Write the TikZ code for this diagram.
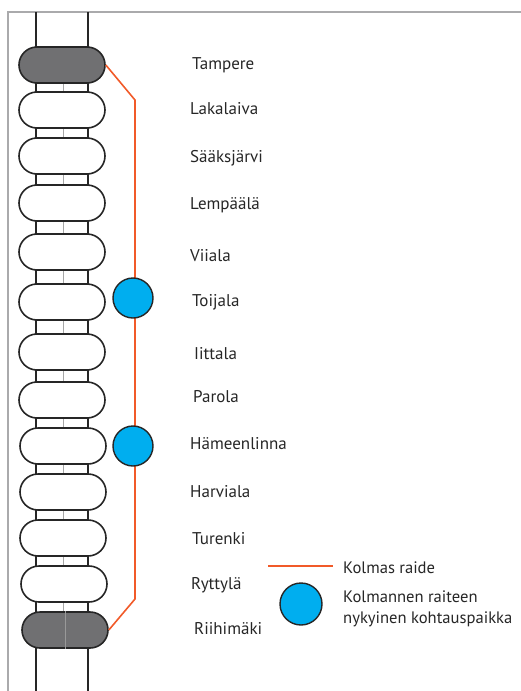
\documentclass[tikz,border=0pt]{standalone}
\usepackage{fontspec}
\setmainfont{PT Sans}
\usetikzlibrary{shapes.misc}

\definecolor{raideorange}{RGB}{241,90,41}
\definecolor{paikkablue}{RGB}{0,174,239}
\definecolor{framegray}{RGB}{170,170,172}
\definecolor{pillgray}{RGB}{112,112,114}

\begin{document}
\begin{tikzpicture}[x=1pt,y=-1pt,
  pill/.style={rounded rectangle,draw=black!85,line width=1.6pt,fill=#1,minimum width=86pt,minimum height=36pt,inner sep=0pt},
  stat/.style={anchor=west,inner sep=0pt,text height=12pt,text depth=3.5pt,font=\fontsize{17}{19}\selectfont,text=black!85},
  paikka/.style={circle,draw=black!85,line width=1.4pt,fill=paikkablue,minimum size=40pt,inner sep=0pt},
  raide/.style={raideorange,line width=1.6pt},
  legtext/.style={anchor=west,inner sep=0pt,font=\fontsize{16.6}{20.5}\selectfont,text=black!85,align=left},
]
\useasboundingbox (0,0) rectangle (521,691);

% frame
\draw[framegray,line width=2pt] (7.5,691) -- (7.5,12) -- (521,12);

% tracks
\draw[black!85,line width=1.8pt] (36,12) -- (36,691);
\draw[black!85,line width=1.8pt] (88,12) -- (88,691);
\draw[black!35,line width=0.5pt] (63,65) -- (63,630);

% stations
\node[pill=pillgray] (tam) at (62,65)  {};
\node[pill=white]    (lak) at (62,110) {};
\node[pill=white]    (saa) at (62,156) {};
\node[pill=white]    (lem) at (62,203) {};
\node[pill=white]    (vii) at (62,252) {};
\node[pill=white]    (toi) at (62,302) {};
\node[pill=white]    (iit) at (62,352) {};
\node[pill=white]    (par) at (62,400) {};
\node[pill=white]    (ham) at (63,446) {};
\node[pill=white]    (har) at (63,492) {};
\node[pill=white]    (tur) at (63,538) {};
\node[pill=white]    (ryt) at (64,584) {};
\node[pill=pillgray] (rii) at (65,630) {};
\draw[black!40,line width=0.5pt] (rii.north) -- (rii.south);

% station names
\node[stat] (tamlbl) at (192,65)  {Tampere};
\node[stat] (laklbl) at (190,110) {Lakalaiva};
\node[stat] (saalbl) at (190,158) {Sääksjärvi};
\node[stat] (lemlbl) at (190,205) {Lempäälä};
\node[stat] (viilbl) at (190,257) {Viiala};
\node[stat] (toilbl) at (192,302) {Toijala};
\node[stat] (iitlbl) at (194,355) {Iittala};
\node[stat] (parlbl) at (193,398) {Parola};
\node[stat] (hamlbl) at (190,445) {Hämeenlinna};
\node[stat] (harlbl) at (190,493) {Harviala};
\node[stat] (turlbl) at (192,540) {Turenki};
\node[stat] (rytlbl) at (191,585) {Ryttylä};
\node[stat] (riilbl) at (194,630) {Riihimäki};

% third track
\coordinate (bendtop) at (135,100);
\coordinate (bendbot) at (135,599);
\draw[raide] (tam.east) -- (bendtop) -- (bendbot) -- (rii.east);

% passing places
\node[paikka] (toipaikka) at (133,298) {};
\node[paikka] (hampaikka) at (133,446) {};

% legend
\coordinate (legA) at (268,566);
\coordinate (legB) at (333,566);
\draw[raide] (legA) -- (legB);
\node[legtext] (raidelbl) at (343,568) {Kolmas raide};
\node[paikka,minimum size=42pt] (legpaikka) at (301,604) {};
\node[legtext] (paikkalbl) at (343,609) {Kolmannen raiteen\\nykyinen kohtauspaikka};

\end{tikzpicture}
\end{document}
